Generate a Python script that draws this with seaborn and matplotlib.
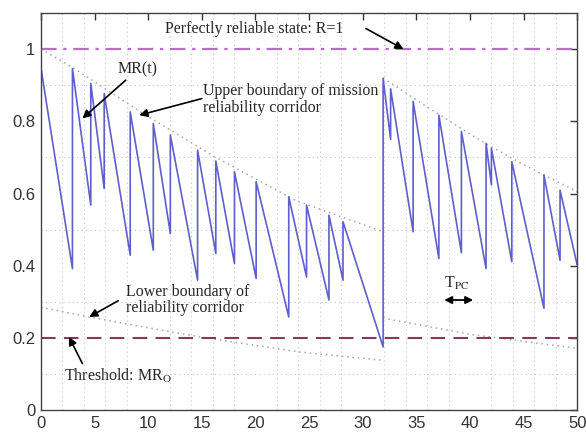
import numpy as np
import pandas as pd
import matplotlib
matplotlib.use("Agg")
import matplotlib.pyplot as plt
import seaborn as sns

# ---- data ----
t_start, r_start = 0.0, 0.947
event_t = [2.93, 4.64, 5.89, 8.32, 10.47, 12.06, 14.6, 16.3, 18.04, 20.06, 23.1,
           24.76, 26.85, 28.16, 31.9, 32.6, 34.7, 37.1, 39.2, 41.5, 42.0, 43.9,
           46.9, 48.4]
trough_r = [0.392, 0.568, 0.614, 0.429, 0.443, 0.489, 0.36, 0.434, 0.406, 0.365,
            0.258, 0.369, 0.305, 0.36, 0.175, 0.75, 0.494, 0.42, 0.436, 0.392,
            0.624, 0.411, 0.282, 0.415]
peak_r = [0.946, 0.905, 0.877, 0.826, 0.794, 0.762, 0.72, 0.69, 0.66, 0.633,
          0.591, 0.568, 0.54, 0.522, 0.919, 0.89, 0.855, 0.817, 0.772, 0.739,
          0.725, 0.688, 0.651, 0.609]
t_end, r_end = 50.0, 0.402

upper1_t = [0.0, 2.9, 9.5, 16.3, 23.8, 31.9]
upper1_r = [1.0, 0.95, 0.822, 0.70, 0.58, 0.494]
upper2_t = [31.9, 36.0, 40.9, 45.0, 50.0]
upper2_r = [0.92, 0.84, 0.748, 0.68, 0.605]
lower1_t = [0.0, 4.5, 10.0, 15.4, 24.1, 31.9]
lower1_r = [0.285, 0.258, 0.228, 0.20, 0.161, 0.138]
lower2_t = [31.9, 40.0, 50.0]
lower2_r = [0.255, 0.21, 0.171]

perfect_level = 1.0
threshold_level = 0.2
x_ticks = [0, 5, 10, 15, 20, 25, 30, 35, 40, 45, 50]
y_ticks = [0, 0.2, 0.4, 0.6, 0.8, 1.0]
y_tick_labels = ["0", "0.2", "0.4", "0.6", "0.8", "1"]

# ---- build MR(t) table ----
ts, rs = [t_start], [r_start]
for t, lo, hi in zip(event_t, trough_r, peak_r):
    ts += [t, t]
    rs += [lo, hi]
ts.append(t_end)
rs.append(r_end)
mr = pd.DataFrame({"t": ts, "R": rs})

sns.set_style("white")
plt.rcParams["mathtext.fontset"] = "stix"
serif = ["Liberation Serif", "DejaVu Serif"]

fig = plt.figure(figsize=(5.86, 4.34), dpi=100)
ax = fig.add_axes([0.070, 0.055, 0.915, 0.915])

# grid
ax.set_xticks(np.arange(0, 51, 2), minor=True)
ax.set_yticks(np.arange(0, 1.11, 0.1), minor=True)
ax.grid(which="minor", color="#c8c8c8", linestyle=(0, (1, 3)), linewidth=0.8)
ax.set_axisbelow(True)

# boundaries
for bt, br in [(upper1_t, upper1_r), (upper2_t, upper2_r),
               (lower1_t, lower1_r), (lower2_t, lower2_r)]:
    sns.lineplot(x=bt, y=br, ax=ax, color="#a8a8a8", linestyle=(0, (1, 2.5)),
                 linewidth=1.1, sort=False, estimator=None)

ax.axhline(perfect_level, color="#b86ccc", linestyle=(0, (7, 3, 1.5, 3)), linewidth=1.6)
ax.axhline(threshold_level, color="#8c3658", linestyle=(0, (7, 4)), linewidth=1.5)

sns.lineplot(data=mr, x="t", y="R", ax=ax, sort=False, estimator=None,
             color="#5f5fcc", linewidth=1.2)

ax.set_xlim(0, 50)
ax.set_ylim(0, 1.1)
ax.set_xticks(x_ticks)
ax.set_yticks(y_ticks)
ax.set_yticklabels(y_tick_labels)
ax.set_xlabel("")
ax.set_ylabel("")
ax.tick_params(which="major", direction="in", length=5, width=1, top=True, right=True,
               labelsize=12, labelcolor="#333333", color="#333333", pad=4)
ax.tick_params(which="minor", length=0)
for lab in ax.get_xticklabels() + ax.get_yticklabels():
    lab.set_family(["Liberation Sans", "DejaVu Sans"])
for s in ax.spines.values():
    s.set_color("#444444")
    s.set_linewidth(1.0)

fs = 11.5
arr = dict(arrowstyle="-|>", color="black", lw=1.2, mutation_scale=12, shrinkA=0, shrinkB=0)

ax.text(19.9, 1.057, "Perfectly reliable state: R=1", family=serif, fontsize=fs,
        ha="center", va="center")
ax.annotate("", xy=(33.8, 1.0), xytext=(30.3, 1.057), arrowprops=arr)

ax.text(9.0, 0.945, "MR(t)", family=serif, fontsize=fs, ha="center", va="center")
ax.annotate("", xy=(3.86, 0.808), xytext=(7.9, 0.914), arrowprops=arr)

ax.text(15.1, 0.86, "Upper boundary of mission\nreliability corridor", family=serif,
        fontsize=fs, ha="left", va="center", linespacing=1.05)
ax.annotate("", xy=(9.16, 0.817), xytext=(15.0, 0.863), arrowprops=arr)

ax.text(7.9, 0.305, "Lower boundary of\nreliability corridor", family=serif,
        fontsize=fs, ha="left", va="center", linespacing=1.05)
ax.annotate("", xy=(4.49, 0.258), xytext=(7.2, 0.303), arrowprops=arr)

ax.text(2.15, 0.095, "Threshold: MR$_{\\rm O}$", family=serif, fontsize=fs,
        ha="left", va="center")
ax.annotate("", xy=(2.6, 0.203), xytext=(3.86, 0.129), arrowprops=arr)

ax.text(38.75, 0.352, "T$_{\\rm PC}$", family=serif, fontsize=fs, ha="center", va="center")
ax.annotate("", xy=(40.3, 0.305), xytext=(37.6, 0.305),
            arrowprops=dict(arrowstyle="<|-|>", color="black", lw=1.3, mutation_scale=11,
                            shrinkA=0, shrinkB=0))

fig.savefig("out.png", dpi=100)
